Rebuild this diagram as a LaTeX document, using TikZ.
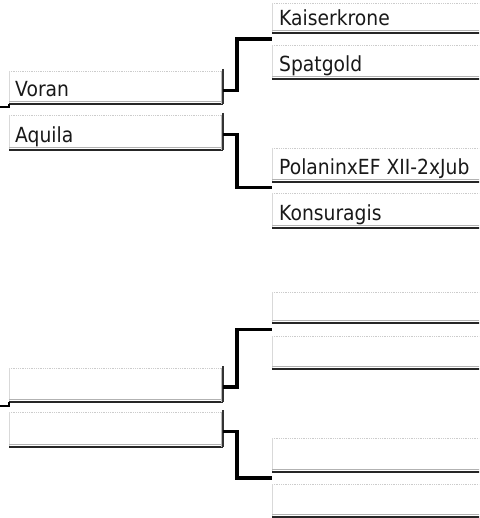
\documentclass[tikz,border=0pt]{standalone}
\usepackage{fontspec}
\setmainfont{DejaVu Sans}[FakeStretch=0.9]
\usetikzlibrary{calc}
\tikzset{
  slot/.style={rectangle, draw=none, inner sep=0pt, outer sep=0pt, anchor=north west},
  rslot/.style={slot, minimum width=215pt},
  lslot/.style={slot, minimum width=214pt},
  lbl/.style={anchor=base west, inner sep=0pt, font=\fontsize{20.8}{24}\selectfont, text=black!90},
  topedge/.style={draw=gray!40, line width=0.8pt, densely dotted},
  leftedge/.style={draw=gray!30, line width=0.8pt},
  botedge/.style={draw=black!85, line width=2.4pt},
  botshade/.style={draw=gray!60, line width=1pt},
  rightedge/.style={draw=black!80, line width=1.4pt},
  rightshade/.style={draw=gray!55, line width=1pt},
  conn/.style={draw=black, line width=3.2pt, line join=miter},
  stub/.style={draw=black, line width=2.5pt},
}
\begin{document}
\begin{tikzpicture}[x=1pt,y=-1pt]
\clip (0,0) rectangle (479,518);
\fill[white] (0,0) rectangle (479,518);
% right column, top half
\node[rslot, minimum height=30pt] (kaiser) at (272,3) {};
\node[rslot, minimum height=34pt] (spat) at (272,45) {};
\node[rslot, minimum height=34pt] (polan) at (272,148) {};
\node[rslot, minimum height=35pt] (konsu) at (272,193) {};
% left column, top half
\node[lslot, minimum height=33pt] (voran) at (9,71) {};
\node[lslot, minimum height=35pt] (aquila) at (9,115) {};
% right column, bottom half
\node[rslot, minimum height=31pt] (rfive) at (272,292) {};
\node[rslot, minimum height=33pt] (rsix) at (272,336) {};
\node[rslot, minimum height=34pt] (rseven) at (272,438) {};
\node[rslot, minimum height=33pt] (reight) at (272,484) {};
% left column, bottom half
\node[lslot, minimum height=34pt] (lthree) at (9,368) {};
\node[lslot, minimum height=35pt] (lfour) at (9,412) {};
% box edges
\foreach \n in {kaiser,spat,polan,konsu,voran,aquila,rfive,rsix,rseven,reight,lthree,lfour}{
  \draw[topedge] (\n.north west) -- (\n.north east);
  \draw[leftedge] (\n.north west) -- (\n.south west);
  \draw[botshade] ([yshift=2.2pt]\n.south west) -- ([yshift=2.2pt]\n.south east);
  \draw[botedge] (\n.south west) -- (\n.south east);
}
\foreach \n in {voran,aquila,lthree,lfour}{
  \draw[rightshade] ([xshift=-1.8pt]\n.north east) -- ([xshift=-1.8pt]\n.south east);
  \draw[rightedge] ([yshift=2pt]\n.north east) -- (\n.south east);
}
% labels
\node[lbl] (kaiserT) at ([xshift=7pt,yshift=7pt]kaiser.south west) {Kaiserkrone};
\node[lbl] (spatT) at ([xshift=7pt,yshift=7pt]spat.south west) {Spatgold};
\node[lbl] (polanT) at ([xshift=7pt,yshift=7pt]polan.south west) {PolaninxEF XII-2xJub};
\node[lbl] (konsuT) at ([xshift=7pt,yshift=7pt]konsu.south west) {Konsuragis};
\node[lbl] (voranT) at ([xshift=6pt,yshift=7pt]voran.south west) {Voran};
\node[lbl] (aquilaT) at ([xshift=6pt,yshift=7pt]aquila.south west) {Aquila};
% connectors
\draw[conn] ([yshift=-3pt]voran.east) -- ++(14,0) |- ($(kaiser.south west)!.5!(spat.north west)$);
\draw[conn] ([yshift=-2pt]aquila.east) -- ++(14,0) |- ($(polan.south west)!.5!(konsu.north west)$);
\draw[conn] ([yshift=-2pt]lthree.east) -- ++(14,0) |- ($(rfive.south west)!.5!(rsix.north west)$);
\draw[conn] ([yshift=-2pt]lfour.east) -- ++(14,0) |- ($(rseven.south west)!.5!(reight.north west)$);
% stubs
\coordinate (stubA) at (0,107);
\coordinate (stubB) at (0,406);
\draw[stub] (voran.south west) |- (stubA);
\draw[stub] (lthree.south west) |- (stubB);
\end{tikzpicture}
\end{document}
